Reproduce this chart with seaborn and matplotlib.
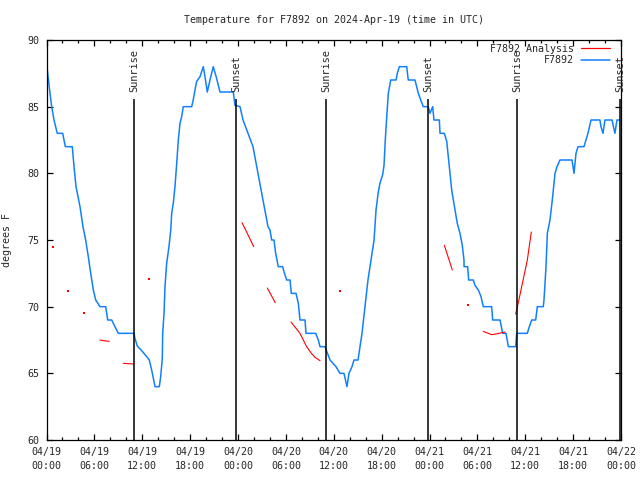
import matplotlib
matplotlib.use("Agg")
import matplotlib.pyplot as plt
import matplotlib.dates as mdates
from matplotlib.lines import Line2D
import seaborn as sns
import pandas as pd

START = pd.Timestamp("2024-04-19 00:00")
STATION = "F7892"
BLUE = "#1080ff"
RED = "#ff0000"

# observed temperature (hours after start, degrees F)
obs_hours = [0.0, 0.1, 0.44, 0.65, 0.94, 1.35, 2.03, 2.36, 3.23, 3.45, 3.7, 4.2, 4.57,
             4.91, 5.24, 5.54, 5.87, 6.17, 6.7, 7.42, 7.67, 8.17, 8.8, 9.0, 10.97,
             11.09, 11.38, 11.93, 12.56, 12.88, 13.18, 13.51, 13.6, 14.14, 14.31,
             14.51, 14.56, 14.73, 14.85, 15.06, 15.35, 15.57, 15.69, 15.89, 16.1,
             16.32, 16.52, 16.73, 16.94, 17.14, 18.2, 18.4, 18.61, 18.82, 19.24,
             19.65, 19.86, 20.15, 20.49, 20.9, 21.33, 21.74, 23.41, 23.62, 24.25,
             24.63, 25.25, 25.88, 26.5, 27.13, 27.76, 28.01, 28.22, 28.51, 28.72,
             29.05, 29.6, 29.77, 30.1, 30.52, 30.68, 31.27, 31.56, 31.77, 32.4,
             32.52, 33.74, 34.06, 34.28, 34.9, 35.53, 36.28, 36.78, 37.28, 37.66,
             37.91, 38.29, 38.54, 39.04, 39.29, 39.54, 39.92, 40.29, 40.67, 41.05,
             41.3, 41.58, 41.79, 42.13, 42.3, 42.46, 42.64, 42.84, 43.14, 43.81,
             43.97, 44.22, 45.14, 45.34, 46.18, 46.39, 46.6, 46.9, 47.22, 47.85,
             48.06, 48.4, 48.56, 49.23, 49.32, 49.86, 50.16, 50.36, 50.57, 50.78,
             51.2, 51.48, 51.82, 52.11, 52.32, 52.33, 52.78, 52.91, 53.49, 53.7,
             54.12, 54.46, 54.74, 55.79, 55.92, 56.84, 57.17, 57.59, 57.88, 58.8,
             58.93, 60.26, 60.51, 60.81, 61.31, 61.51, 62.26, 62.35, 62.6, 62.77,
             63.1, 63.39, 63.73, 63.98, 64.35, 65.86, 66.11, 66.36, 66.61, 67.36,
             67.61, 67.86, 68.24, 69.36, 69.49, 69.74, 69.99, 70.87, 71.24, 71.49,
             71.86]
obs_temp = [88.0, 87.75, 86.0, 85.0, 84.0, 83.0, 83.0, 82.0, 82.0, 80.5, 79.0, 77.5, 76.0,
            75.0, 73.75, 72.5, 71.25, 70.5, 70.0, 70.0, 69.0, 69.0, 68.25, 68.0, 68.0,
            67.6, 67.05, 66.7, 66.25, 66.0, 65.25, 64.25, 64.0, 64.0, 64.75,
            66.1, 68.0, 69.5, 71.5, 73.25, 74.5, 75.75, 77.0, 77.75, 79.0,
            80.75, 82.5, 83.75, 84.25, 85.0, 85.0, 85.55, 86.25, 86.9, 87.25,
            88.0, 87.25, 86.1, 87.0, 88.0, 87.1, 86.1, 86.1, 85.1, 85.0,
            84.0, 83.0, 82.0, 80.0, 78.0, 76.0, 75.75, 75.0, 75.0, 74.0,
            73.0, 73.0, 72.6, 72.0, 72.0, 71.0, 71.0, 70.25, 69.0, 69.0,
            68.0, 68.0, 67.5, 67.0, 67.0, 66.0, 65.5, 65.0, 65.0, 64.0,
            65.0, 65.5, 66.0, 66.0, 67.0, 68.0, 70.0, 72.0, 73.5, 75.0,
            77.25, 78.6, 79.25, 79.9, 80.6, 82.5, 84.25, 86.0, 87.0, 87.0,
            87.5, 88.0, 88.0, 87.0, 87.0, 86.5, 86.0, 85.5, 85.0, 85.0,
            84.5, 85.0, 84.0, 84.0, 83.0, 83.0, 82.4, 81.25, 80.0, 78.75,
            77.25, 76.25, 75.5, 74.6, 73.5, 73.0, 73.0, 72.0, 72.0, 71.6,
            71.25, 70.75, 70.0, 70.0, 69.0, 69.0, 68.0, 68.0, 67.0, 67.0,
            68.0, 68.0, 68.5, 69.0, 69.0, 70.0, 70.0, 70.5, 73.0, 75.5,
            76.5, 78.0, 80.0, 80.5, 81.0, 81.0, 80.0, 81.5, 82.0, 82.0,
            82.5, 83.0, 84.0, 84.0, 83.5, 83.0, 84.0, 84.0, 83.0, 84.0,
            84.0]

# analysis: short segments (segment id, hours, temperature)
ana_seg = [1, 1, 1, 2, 2, 3, 3, 3, 4, 4, 5, 5, 5, 5, 5, 5, 6, 6, 7, 7, 7, 7, 8, 8, 8, 8]
ana_hours = [6.7, 7.1, 7.87, 9.63, 10.88, 24.5, 25.0, 25.97, 27.67, 28.67,
             30.64, 31.77, 32.6, 33.2, 33.65, 34.28, 49.86, 50.86,
             54.74, 55.79, 56.3, 57.46, 58.8, 59.2, 60.26, 60.76]
ana_temp = [67.5, 67.45, 67.4, 65.75, 65.7, 76.3, 75.7, 74.5, 71.4, 70.3,
            68.85, 68.0, 67.0, 66.5, 66.2, 65.95, 74.6, 72.75,
            68.15, 67.9, 67.95, 68.1, 69.45, 70.5, 73.5, 75.6]

# analysis: isolated points
dot_hours = [0.85, 2.73, 4.74, 12.88, 36.8, 52.78]
dot_temp = [74.5, 71.2, 69.5, 72.1, 71.2, 70.1]

sunrise_hours = [11.0, 35.03, 59.0]
sunset_hours = [23.79, 47.85, 71.9]


def to_time(hours):
    return START + pd.to_timedelta(hours, unit="h")


sns.set_theme(style="ticks")
plt.rcParams["font.family"] = ["DejaVu Sans Mono"]
plt.rcParams["font.size"] = 7.2

obs = pd.DataFrame({"time": to_time(obs_hours), "temp": obs_temp})
ana = pd.DataFrame({"time": to_time(ana_hours), "temp": ana_temp, "seg": ana_seg})
dots = pd.DataFrame({"time": to_time(dot_hours), "temp": dot_temp})

fig = plt.figure(figsize=(6.4, 4.8), dpi=100)
ax = fig.add_axes([46.5 / 640, 40 / 480, 574.5 / 640, 400 / 480])

sns.lineplot(data=obs, x="time", y="temp", color=BLUE, linewidth=1.1,
             estimator=None, sort=False, ax=ax)
sns.lineplot(data=ana, x="time", y="temp", units="seg", color=RED, linewidth=0.8,
             estimator=None, sort=False, ax=ax)
sns.scatterplot(data=dots, x="time", y="temp", color=RED, marker="s", s=1.5,
                linewidth=0, legend=False, ax=ax)

for hrs, name in [(sunrise_hours, "Sunrise"), (sunset_hours, "Sunset")]:
    times = to_time(hrs)
    ax.vlines(times, 60, 85.55, color="black", linewidth=1.1)
    for t in times:
        ax.text(t, 86.1, name, rotation=90, ha="center", va="bottom",
                fontsize=7.4, clip_on=False)

ax.set_xlim(to_time([0])[0], to_time([72])[0])
ax.set_ylim(60, 90)
ax.set_yticks(range(60, 91, 5))
ax.xaxis.set_major_locator(mdates.HourLocator(byhour=[0, 6, 12, 18]))
ax.xaxis.set_minor_locator(mdates.HourLocator(byhour=range(0, 24, 2)))
ax.xaxis.set_major_formatter(mdates.DateFormatter("%m/%d\n%H:%M"))
ax.tick_params(which="both", direction="in", top=True, right=True,
               color="black", labelsize=7.2, width=0.9)
ax.tick_params(which="major", length=4.5)
ax.tick_params(axis="x", which="minor", length=2.5)
ax.tick_params(axis="x", pad=5)
ax.tick_params(axis="y", pad=5)
for s in ax.spines.values():
    s.set_color("black")
    s.set_linewidth(0.9)

ax.set_xlabel("")
ax.set_ylabel("degrees F", fontsize=7.2, labelpad=11)
ax.set_title(f"Temperature for {STATION} on 2024-Apr-19 (time in UTC)",
             fontsize=7.2, pad=12)

handles = [Line2D([], [], color=RED, linewidth=0.9),
           Line2D([], [], color=BLUE, linewidth=1.1)]
ax.legend(handles, [f"{STATION} Analysis", STATION], loc="upper right",
          bbox_to_anchor=(0.984, 0.995), frameon=False, markerfirst=False,
          borderpad=0.2, borderaxespad=0, labelspacing=0.15,
          handlelength=2.9, handletextpad=0.67, fontsize=7.2)

fig.canvas.draw()
for lbl in ax.get_xticklabels():
    lbl.set_linespacing(1.45)

fig.savefig("out.png", dpi=100)
